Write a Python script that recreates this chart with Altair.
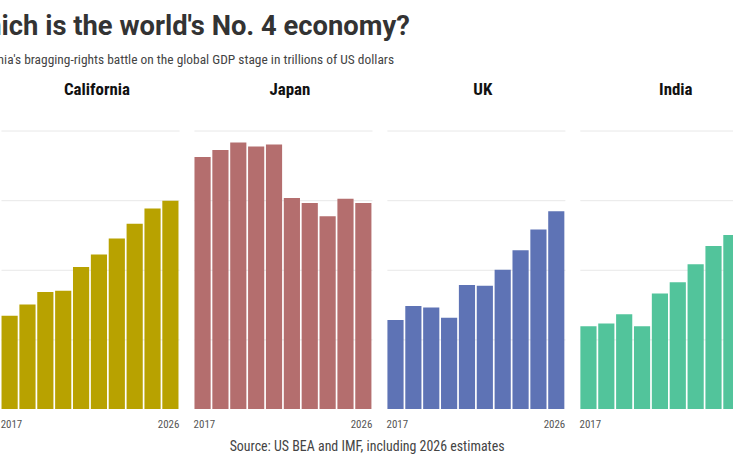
import altair as alt
import pandas as pd

# GDP, trillions of US dollars (2025-2026 are estimates)
years = [str(y) for y in range(2017, 2027)]
regions = ["California", "Japan", "UK", "India"]
california = [2.84, 3.00, 3.18, 3.20, 3.54, 3.72, 3.95, 4.16, 4.38, 4.49]
japan = [5.12, 5.22, 5.33, 5.27, 5.30, 4.53, 4.46, 4.27, 4.52, 4.46]
uk = [2.78, 2.98, 2.96, 2.81, 3.28, 3.27, 3.50, 3.78, 4.08, 4.34]
india = [2.69, 2.73, 2.86, 2.69, 3.16, 3.32, 3.58, 3.84, 4.00, 4.27]
series = [california, japan, uk, india]
colors = ["#B8A200", "#B46E6E", "#5E73B5", "#52C49B"]

title_text = "Which is the world's No. 4 economy?"
subtitle_text = ("California's bragging-rights battle on the global GDP stage "
                 "in trillions of US dollars")
source_text = "Source: US BEA and IMF, including 2026 estimates"

COND = "Roboto Condensed, Liberation Sans Narrow, DejaVu Sans Condensed, Roboto, sans-serif"
HEAD = "Roboto, sans-serif"
PANEL_W = 179
PANEL_H = 280

first_year = years[0]
is_first = f"datum.value == '{first_year}'"

panels = []
for name, values, color in zip(regions, series, colors):
    df = pd.DataFrame({"year": years, "gdp": values})
    panel = (
        alt.Chart(df)
        .mark_bar(color=color, clip=True)
        .encode(
            x=alt.X(
                "year:O",
                title=None,
                scale=alt.Scale(paddingInner=0.095, paddingOuter=0.03),
                axis=alt.Axis(
                    values=[years[0], years[-1]],
                    labelAngle=0,
                    ticks=False,
                    domain=False,
                    labelPadding=10,
                    labelFont=COND,
                    labelFontSize=11,
                    labelColor="#555555",
                    labelAlign={"condition": {"test": is_first, "value": "left"}, "value": "right"},
                    labelOffset={"condition": {"test": is_first, "value": -9}, "value": 9},
                ),
            ),
            y=alt.Y(
                "gdp:Q",
                title=None,
                scale=alt.Scale(domain=[1.5, 5.5], zero=False, nice=False),
                axis=alt.Axis(
                    values=[2.5, 3.5, 4.5, 5.5],
                    labels=False,
                    ticks=False,
                    domain=False,
                    gridColor="#e8e8e8",
                    gridWidth=1,
                ),
            ),
        )
        .properties(
            width=PANEL_W,
            height=PANEL_H,
            title=alt.TitleParams(
                name,
                font=COND,
                fontSize=17,
                fontWeight="bold",
                color="#111111",
                anchor="middle",
                dx=7,
                offset=32,
            ),
        )
    )
    panels.append(panel)

row = alt.hconcat(
    *panels,
    spacing=14,
    title=alt.TitleParams(
        source_text,
        orient="bottom",
        anchor="middle",
        font=COND,
        fontSize=14,
        fontWeight="normal",
        color="#444444",
        dx=-12,
        offset=10,
    ),
)

chart = (
    alt.vconcat(
        row,
        title=alt.TitleParams(
            title_text,
            subtitle=subtitle_text,
            anchor="start",
            dx=-38,
            font=HEAD,
            fontSize=27.5,
            fontWeight="bold",
            color="#333333",
            subtitleFont=COND,
            subtitleFontSize=13.5,
            subtitleColor="#444444",
            subtitlePadding=13,
            offset=14,
        ),
    )
    .properties(
        padding={"left": -38, "right": -25, "top": 12, "bottom": 6},
        background="white",
    )
    .configure_view(stroke=None)
)

chart.save("out.html", embed_options={"renderer": "svg", "actions": False})
